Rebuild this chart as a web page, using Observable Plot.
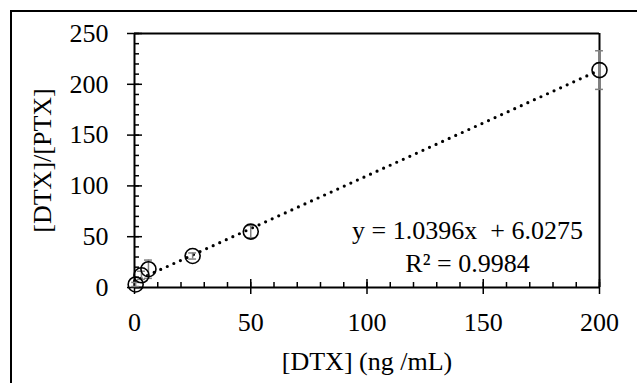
<!DOCTYPE html>
<html>
<head>
<meta charset="utf-8">
<script src="https://cdn.jsdelivr.net/npm/d3@7"></script>
<script src="https://cdn.jsdelivr.net/npm/@observablehq/plot@0.6"></script>
<style>
  html, body { margin: 0; padding: 0; background: #fff; overflow: hidden; }
  #wrap { position: relative; width: 637px; height: 383px; }
  #outer { position: absolute; left: 10px; top: 10px; right: -10px; bottom: -10px;
           border-left: 2px solid #000; border-top: 2px solid #000; pointer-events: none; }
  #chart { position: absolute; left: 0; top: 0; }
</style>
</head>
<body>
<div id="wrap"><div id="chart"></div><div id="outer"></div></div>
<script>
// Data
const xVals = [0.5, 3, 6, 25, 50, 200];       // [DTX] (ng/mL)
const yVals = [3, 12, 18, 31, 55, 214];       // [DTX]/[PTX]
const yErr  = [2, 4, 9, 3, 6, 19];            // error bar half-widths
const xTicks = [0, 50, 100, 150, 200];
const yTicks = [0, 50, 100, 150, 200, 250];
const xMinor = d3.range(0, 201, 10);
const yMinor = d3.range(0, 251, 10);
const slope = 1.0396, intercept = 6.0275, r2 = 0.9984;
const eqText = "y = 1.0396x  + 6.0275";
const r2Text = "R² = 0.9984";
const xLabel = "[DTX] (ng /mL)";
const yLabel = "[DTX]/[PTX]";

const points = xVals.map((x, i) => ({x, y: yVals[i], e: yErr[i]}));
const fit = [0, 200].map(x => ({x, y: slope * x + intercept}));
const cap = 1.7; // cap half-width in x units
const serif = "Liberation Serif";

const chart = Plot.plot({
  width: 637,
  height: 383,
  marginLeft: 134,
  marginRight: 38,
  marginTop: 33,
  marginBottom: 96,
  style: {fontFamily: serif, fontSize: "26px", color: "#000", background: "transparent"},
  x: {domain: [0, 200]},
  y: {domain: [0, 250]},
  marks: [
    // inward minor ticks
    Plot.axisY({ticks: yMinor, tickSize: -5, fill: "none", strokeWidth: 1.5}),
    Plot.axisX({ticks: xMinor, tickSize: -5, fill: "none", strokeWidth: 1.5}),
    // major ticks crossing the axes
    Plot.axisY({ticks: yTicks, tickSize: -8, fill: "none", strokeWidth: 1.5}),
    Plot.axisX({ticks: xTicks, tickSize: -8, fill: "none", strokeWidth: 1.5}),
    Plot.axisY({ticks: yTicks, tickSize: 7, fill: "none", strokeWidth: 1.5}),
    Plot.axisX({ticks: xTicks, tickSize: 7, fill: "none", strokeWidth: 1.5}),
    // tick labels
    Plot.text(yTicks, {x: 0, y: d => d, text: d => String(d), dx: -26, textAnchor: "end", lineAnchor: "middle", fontSize: 26, fontFamily: serif}),
    Plot.text(xTicks, {x: d => d, y: 0, text: d => String(d), dy: 35, textAnchor: "middle", lineAnchor: "middle", fontSize: 26, fontFamily: serif}),
    // axes lines and top/right frame
    Plot.ruleX([0], {strokeWidth: 2}),
    Plot.ruleY([0], {strokeWidth: 2}),
    Plot.ruleY([250], {strokeWidth: 2}),
    Plot.ruleX([200], {strokeWidth: 2}),
    // trend line
    Plot.line(fit, {x: "x", y: "y", stroke: "#000", strokeWidth: 3.2, strokeDasharray: "0 7.2", strokeLinecap: "round"}),
    // error bars
    Plot.ruleX(points, {x: "x", y1: d => d.y - d.e, y2: d => d.y + d.e, stroke: "#808080", strokeWidth: 1.5}),
    Plot.ruleY(points, {y: d => d.y - d.e, x1: d => d.x - cap, x2: d => d.x + cap, stroke: "#808080", strokeWidth: 1.5}),
    Plot.ruleY(points, {y: d => d.y + d.e, x1: d => d.x - cap, x2: d => d.x + cap, stroke: "#808080", strokeWidth: 1.5}),
    // points
    Plot.dot(points, {x: "x", y: "y", r: 7.5, stroke: "#000", strokeWidth: 1.6, fill: "none"}),
    // equation annotation
    Plot.text([eqText], {frameAnchor: "bottom-right", dx: -132, dy: -57, text: d => d, textAnchor: "middle", lineAnchor: "middle", fontSize: 26, fontFamily: serif}),
    Plot.text([r2Text], {frameAnchor: "bottom-right", dx: -132, dy: -24, text: d => d, textAnchor: "middle", lineAnchor: "middle", fontSize: 26, fontFamily: serif}),
    // axis labels
    Plot.text([xLabel], {frameAnchor: "bottom", dy: 74, text: d => d, textAnchor: "middle", lineAnchor: "middle", fontSize: 26, fontFamily: serif}),
    Plot.text([yLabel], {frameAnchor: "left", dx: -92, rotate: -90, text: d => d, textAnchor: "middle", lineAnchor: "middle", fontSize: 26, fontFamily: serif, fill: "#000"})
  ]
});
document.getElementById("chart").appendChild(chart);
</script>
</body>
</html>
